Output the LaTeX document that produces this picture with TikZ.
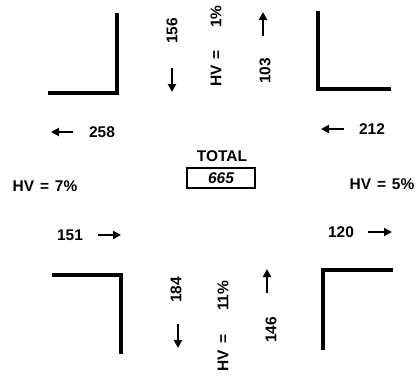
\documentclass[tikz,border=0pt]{standalone}
\usepackage{fontspec}
\setmainfont{Liberation Sans}
\usetikzlibrary{arrows.meta}
\tikzset{
  curb/.style={line width=3.4pt, line cap=rect, line join=miter},
  flow/.style={line width=2.4pt, -{Triangle[length=8pt,width=8pt]}},
  lbl/.style={font=\fontsize{15.5}{18}\selectfont\bfseries, inner sep=0pt},
  vlbl/.style={lbl, rotate=90},
  totbox/.style={draw, line width=1.4pt, minimum width=68pt, minimum height=20pt, inner sep=0pt,
     font=\fontsize{15.5}{18}\selectfont\bfseries\itshape}
}
\newcommand{\gap}{\hspace{0.38em}}
\begin{document}
\begin{tikzpicture}[x=1pt,y=-1pt]
\useasboundingbox (0,0) rectangle (416,381);
% curbs
\coordinate (tl1) at (50,93); \coordinate (tl2) at (117,93); \coordinate (tl3) at (117,15);
\draw[curb] (tl1) -- (tl2) -- (tl3);
\coordinate (tr1) at (318,13); \coordinate (tr2) at (318,89); \coordinate (tr3) at (389,89);
\draw[curb] (tr1) -- (tr2) -- (tr3);
\coordinate (bl1) at (54,275); \coordinate (bl2) at (121,275); \coordinate (bl3) at (121,352);
\draw[curb] (bl1) -- (bl2) -- (bl3);
\coordinate (br1) at (391,270); \coordinate (br2) at (323,270); \coordinate (br3) at (323,348);
\draw[curb] (br1) -- (br2) -- (br3);
% north approach
\node[vlbl] (n156) at (172,31) {156};
\coordinate (na1) at (172,68); \coordinate (na2) at (172,92);
\draw[flow] (na1) -- (na2);
\node[vlbl] (nhv) at (216,46) {HV\gap=\hspace{22pt}1\%};
\node[vlbl] (n103) at (265,71) {103};
\coordinate (nb1) at (263,36); \coordinate (nb2) at (263,12);
\draw[flow] (nb1) -- (nb2);
% west
\coordinate (wa1) at (73,132); \coordinate (wa2) at (51,132);
\draw[flow] (wa1) -- (wa2);
\node[lbl] (w258) at (102,132) {258};
\node[lbl] (whv) at (45,186) {HV\gap=\gap7\%};
\node[lbl] (w151) at (70,235) {151};
\coordinate (wb1) at (98,235); \coordinate (wb2) at (121,235);
\draw[flow] (wb1) -- (wb2);
% east
\coordinate (ea1) at (344,129); \coordinate (ea2) at (321,129);
\draw[flow] (ea1) -- (ea2);
\node[lbl] (e212) at (372,129) {212};
\node[lbl] (ehv) at (382,184) {HV\gap=\gap5\%};
\node[lbl] (e120) at (341,232) {120};
\coordinate (eb1) at (368,232); \coordinate (eb2) at (392,232);
\draw[flow] (eb1) -- (eb2);
% south
\node[vlbl] (s184) at (176,290) {184};
\coordinate (sa1) at (178,324); \coordinate (sa2) at (178,348);
\draw[flow] (sa1) -- (sa2);
\node[vlbl] (shv) at (223,326) {HV\gap=\hspace{24pt}11\%};
\node[vlbl] (s146) at (271,330) {146};
\coordinate (sb1) at (267,293); \coordinate (sb2) at (267,269);
\draw[flow] (sb1) -- (sb2);
% total
\node[lbl] (tot) at (222,156) {TOTAL};
\node[totbox] (box) at (221,178) {665};
\end{tikzpicture}
\end{document}
